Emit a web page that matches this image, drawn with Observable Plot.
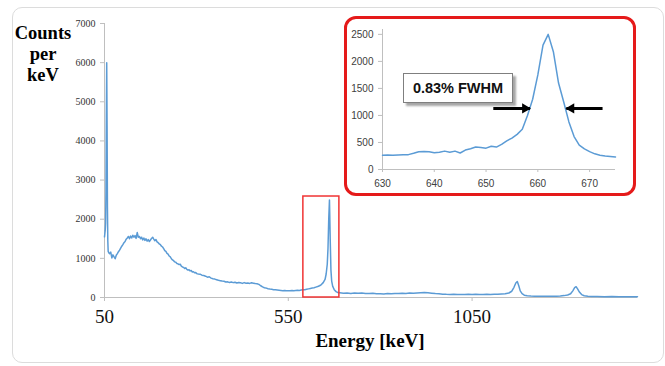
<!DOCTYPE html>
<html><head><meta charset="utf-8">
<script src="https://cdn.jsdelivr.net/npm/d3@7"></script>
<script src="https://cdn.jsdelivr.net/npm/@observablehq/plot@0.6"></script>
<style>
body{margin:0;background:#fff;}
#wrap{position:relative;width:665px;height:366px;overflow:hidden;background:#fff;}
#frame{position:absolute;left:12px;top:7px;width:652px;height:356px;border:1px solid #dcdcdc;border-radius:10px;box-sizing:border-box;}
#main{position:absolute;left:0;top:0;}
#inset{position:absolute;left:344px;top:16px;width:292px;height:180px;border:3px solid #e51a1a;border-radius:12px;box-sizing:border-box;background:#fff;}
#fwhm{position:absolute;left:403px;top:73px;width:110px;height:30px;box-sizing:border-box;border:1px solid #7f7f7f;background:#fff;box-shadow:3px 3px 2px rgba(0,0,0,0.35);font:bold 14.5px 'Liberation Sans',Arial,sans-serif;color:#111;text-align:center;line-height:29px;}
.lbl{position:absolute;font-family:'Liberation Serif','Times New Roman',serif;font-weight:bold;color:#000;text-align:center;}
</style></head><body>
<div id="wrap">
  <div id="frame"></div>
  <div id="main"></div>
  <div id="inset"></div>
  <div id="fwhm">0.83% FWHM</div>
  <div class="lbl" id="ylab" style="left:8px;top:23px;width:70px;font-size:18.5px;line-height:21px;">Counts<br>per<br>keV</div>
  <div class="lbl" id="xlab" style="left:270px;top:331px;width:200px;font-size:19px;line-height:19px;">Energy [keV]</div>
</div>
<script>
// ---- Main spectrum ----
const energyKeV = [
  50,51,52,53,54,55,56,57,58,59,60,62,
  64,67,70,73,76,79,82,85,88,91,
  94,97,100,103,106,109,112,115,118,121,
  124,127,130,133,136,139,142,145,148,151,
  154,157,160,163,166,169,172,175,178,181,
  184,187,190,193,196,199,202,205,208,211,
  214,217,220,223,226,229,232,235,238,241,
  244,247,250,253,256,259,262,265,268,271,
  274,277,280,283,286,289,292,295,298,301,
  305,310,315,320,325,330,335,340,345,350,
  355,360,365,370,375,380,385,390,395,400,
  405,410,415,420,425,430,435,440,445,450,
  455,460,465,470,475,480,485,490,495,500,
  505,510,515,520,525,530,535,540,545,550,
  555,560,565,570,575,580,585,590,595,600,
  605,610,615,620,625,630,635,640,645,650,
  653,656,658,660,662,664,666,668,671,675,680,685,
  690,700,710,720,730,740,750,760,770,780,
  790,800,810,820,830,840,850,860,870,880,
  890,900,910,920,930,940,950,960,970,980,
  990,1000,1010,1020,1030,1040,1050,1060,1070,1080,
  1090,1100,1110,1120,1130,1140,
  1150,1158,1164,1169,1173,1177,1181,1186,1192,1200,
  1210,1220,1230,1240,1250,1260,1270,1280,1290,1300,
  1310,1318,1324,1329,1333,1337,1342,1348,1355,1365,
  1375,1390,1410,1430,1450,1470,1490,1500
];
const countsPerKeV = [
  1550,1640,1720,1900,2700,4600,6000,4400,2300,1450,1180,1140,
  1120,1160,1010,1090,1040,990,1080,1120,1170,1210,
  1260,1310,1350,1400,1430,1490,1520,1560,1500,1570,
  1520,1590,1540,1580,1510,1660,1540,1560,1500,1540,
  1470,1520,1460,1500,1440,1480,1430,1470,1510,1540,
  1490,1450,1480,1420,1400,1370,1350,1310,1290,1250,
  1200,1180,1130,1110,1060,1040,990,960,940,910,
  900,870,860,840,850,800,780,770,740,760,
  720,700,710,680,690,650,660,630,640,610,
  600,595,570,560,545,520,530,495,480,470,
  455,440,430,420,415,395,400,385,395,380,
  390,370,385,375,360,380,365,370,360,375,
  365,355,350,335,300,270,250,240,225,215,
  210,200,195,190,185,180,175,180,170,175,
  170,180,175,180,185,180,190,195,200,210,
  220,230,240,250,265,280,300,330,380,460,
  600,850,1250,2000,2490,1500,700,420,280,200,150,125,
  120,110,115,105,112,108,115,105,100,108,
  95,98,92,100,96,104,100,108,104,112,
  110,118,122,125,120,110,100,95,85,80,
  78,82,75,78,74,80,76,84,78,74,
  80,76,82,80,88,95,
  115,160,260,370,410,300,170,100,60,45,
  38,35,32,30,33,30,32,35,40,48,
  65,95,170,250,275,220,140,75,45,32,
  28,25,22,24,20,22,20,21
];
const xTicks = [50, 550, 1050];
const yTicks = [0, 1000, 2000, 3000, 4000, 5000, 6000, 7000];
const zoomWindow = [{e1: 591, e2: 689, c1: 0, c2: 2580}];

// ---- Inset: 662 keV peak ----
const peakEnergy = [
  630,631,632,633,634,635,636,637,638,639,
  640,641,642,643,644,645,646,647,648,649,
  650,651,652,653,654,655,656,657,658,659,
  660,661,662,663,664,665,666,667,668,669,
  670,671,672,673,674,675
];
const peakCounts = [
  265,268,262,270,272,275,300,330,332,328,
  310,318,340,320,340,305,360,385,415,405,
  395,430,415,465,530,580,650,745,1000,1300,
  1750,2300,2500,2180,1600,1250,880,610,450,380,
  330,290,265,250,240,232
];
const insetXTicks = [630, 640, 650, 660, 670];
const insetYTicks = [0, 500, 1000, 1500, 2000, 2500];
const fwhmArrows = [
  {from: 651.4, to: 658.5, level: 1130},
  {from: 672.5, to: 665.5, level: 1130}
];

const spectrum = energyKeV.map((e, i) => ({e, c: countsPerKeV[i]}));
const peak = peakEnergy.map((e, i) => ({e, c: peakCounts[i]}));
const blue = "#5b9bd5";
const axisGray = "#bfbfbf";

const mainPlot = Plot.plot({
  width: 665, height: 366,
  marginLeft: 104, marginRight: 28, marginTop: 23, marginBottom: 69,
  style: {fontFamily: "'Liberation Serif','Times New Roman',serif", background: "transparent", overflow: "visible"},
  x: {domain: [50, 1500]},
  y: {domain: [0, 7000]},
  marks: [
    Plot.ruleX([50], {stroke: axisGray}),
    Plot.ruleY([0], {stroke: axisGray}),
    Plot.axisY({ticks: yTicks, tickSize: 4, tickPadding: 5, fontSize: 10, stroke: axisGray, fill: "#333", tickFormat: "d", label: null}),
    Plot.axisX({ticks: xTicks, tickSize: 4, tickPadding: 8, fontSize: 19, stroke: axisGray, fill: "#111", tickFormat: "d", label: null}),
    Plot.line(spectrum, {x: "e", y: "c", stroke: blue, strokeWidth: 1.5}),
    Plot.rect(zoomWindow, {x1: "e1", x2: "e2", y1: "c1", y2: "c2", fill: "none", stroke: "#f03434", strokeWidth: 1.5})
  ]
});
document.getElementById("main").appendChild(mainPlot);

const insetPlot = Plot.plot({
  width: 286, height: 174,
  marginLeft: 35, marginRight: 18, marginTop: 10, marginBottom: 24,
  style: {fontFamily: "'Liberation Sans',Arial,sans-serif", background: "transparent", overflow: "visible"},
  x: {domain: [630, 675]},
  y: {domain: [0, 2590]},
  marks: [
    Plot.ruleX([630], {stroke: axisGray}),
    Plot.ruleY([0], {stroke: axisGray}),
    Plot.axisY({ticks: insetYTicks, tickSize: 4, tickPadding: 5, fontSize: 10, stroke: axisGray, fill: "#404040", tickFormat: "d", label: null}),
    Plot.axisX({ticks: insetXTicks, tickSize: 3, tickPadding: 7, fontSize: 10, stroke: axisGray, fill: "#404040", tickFormat: "d", label: null}),
    Plot.line(peak, {x: "e", y: "c", stroke: blue, strokeWidth: 1.5}),
    Plot.link(fwhmArrows, {x1: "from", x2: "to", y1: "level", y2: "level", stroke: "#000", strokeWidth: 3}),
    Plot.dot(fwhmArrows.filter(d => d.to > d.from), {x: "to", y: "level", symbol: "triangle", r: 3.8, fill: "#000", stroke: "none", rotate: 90, dx: -5}),
    Plot.dot(fwhmArrows.filter(d => d.to < d.from), {x: "to", y: "level", symbol: "triangle", r: 3.8, fill: "#000", stroke: "none", rotate: -90, dx: 5})
  ]
});
document.getElementById("inset").appendChild(insetPlot);
</script>
</body></html>
